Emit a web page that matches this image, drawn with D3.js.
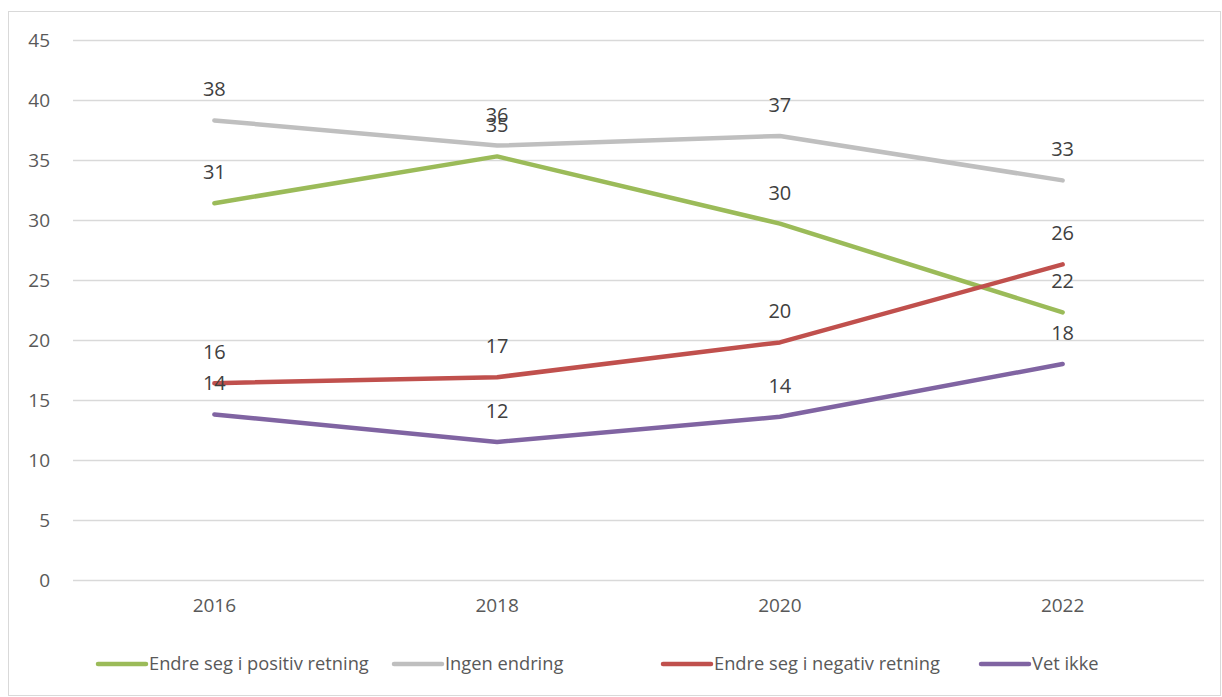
<!DOCTYPE html>
<html>
<head>
<meta charset="utf-8">
<script src="https://cdn.jsdelivr.net/npm/d3@7"></script>
<style>
  body { margin: 0; background: #fff; }
  text { font-family: "Open Sans", sans-serif; }
</style>
</head>
<body>
<div id="wrapper"></div>
<script>
// data
const years = ["2016", "2018", "2020", "2022"];
const seriesNames = ["Endre seg i positiv retning", "Ingen endring", "Endre seg i negativ retning", "Vet ikke"];
const positiv = [31.4, 35.3, 29.7, 22.3];
const ingen = [38.3, 36.2, 37.0, 33.3];
const negativ = [16.4, 16.9, 19.8, 26.3];
const vetIkke = [13.8, 11.5, 13.6, 18.0];
const yTicks = [0, 5, 10, 15, 20, 25, 30, 35, 40, 45];
const colors = ["#9BBB59", "#BFBFBF", "#C0504D", "#8064A2"];

const series = [positiv, ingen, negativ, vetIkke].map((vals, i) => ({
    name: seriesNames[i], color: colors[i], values: vals
}));

const dimensions = {
    width: 1222,
    height: 697,
    margin: { top: 40, right: 18, bottom: 117, left: 73 }
};
dimensions.boundedWidth = dimensions.width - dimensions.margin.left - dimensions.margin.right;
dimensions.boundedHeight = dimensions.height - dimensions.margin.top - dimensions.margin.bottom;

const wrapper = d3.select("#wrapper")
    .append("svg")
    .attr("width", dimensions.width)
    .attr("height", dimensions.height);

// outer frame
wrapper.append("rect")
    .attr("x", 8.5).attr("y", 11.5)
    .attr("width", 1212).attr("height", 684)
    .attr("fill", "none")
    .attr("stroke", "#d9d9d9");

const bounds = wrapper.append("g")
    .attr("transform", `translate(${dimensions.margin.left},${dimensions.margin.top})`);

const xScale = d3.scaleBand()
    .domain(years)
    .range([0, dimensions.boundedWidth]);

const yScale = d3.scaleLinear()
    .domain([0, 45])
    .range([dimensions.boundedHeight, 0]);

// gridlines + y axis
const yAxis = d3.axisLeft(yScale)
    .tickValues(yTicks)
    .tickSize(-dimensions.boundedWidth)
    .tickPadding(23);
const yAxisG = bounds.append("g").call(yAxis);
yAxisG.select(".domain").remove();
yAxisG.selectAll(".tick line").attr("stroke", "#d9d9d9").attr("stroke-width", 1.3);
yAxisG.selectAll(".tick text")
    .attr("fill", "#595959")
    .style("font-size", "19px");

// x axis
const xAxis = d3.axisBottom(xScale).tickSize(0).tickPadding(19);
const xAxisG = bounds.append("g")
    .attr("transform", `translate(0,${dimensions.boundedHeight})`)
    .call(xAxis);
xAxisG.select(".domain").remove();
xAxisG.selectAll(".tick text")
    .attr("fill", "#595959")
    .style("font-size", "19px");

const xCenter = d => xScale(d) + xScale.bandwidth() / 2;

const lineGen = d3.line()
    .x((d, i) => xCenter(years[i]))
    .y(d => yScale(d));

bounds.selectAll(".series")
    .data(series)
    .join("path")
    .attr("class", "series")
    .attr("d", d => lineGen(d.values))
    .attr("fill", "none")
    .attr("stroke", d => d.color)
    .attr("stroke-width", 4.5)
    .attr("stroke-linecap", "round")
    .attr("stroke-linejoin", "round");

// data labels
series.forEach(s => {
    bounds.selectAll(null)
        .data(s.values)
        .join("text")
        .attr("x", (d, i) => xCenter(years[i]))
        .attr("y", d => yScale(d) - 24)
        .attr("text-anchor", "middle")
        .attr("fill", "#404040")
        .style("font-size", "20px")
        .text(d => Math.round(d));
});

// legend
const legendX = [98, 394, 663, 981];
const legend = wrapper.append("g").attr("transform", "translate(0,664)");
series.forEach((s, i) => {
    legend.append("line")
        .attr("x1", legendX[i]).attr("x2", legendX[i] + 48)
        .attr("y1", 0).attr("y2", 0)
        .attr("stroke", s.color)
        .attr("stroke-width", 4.5)
        .attr("stroke-linecap", "round");
    legend.append("text")
        .attr("x", legendX[i] + 51)
        .attr("y", 0)
        .attr("dy", "0.35em")
        .attr("fill", "#595959")
        .style("font-size", "18.3px")
        .text(s.name);
});
</script>
</body>
</html>
